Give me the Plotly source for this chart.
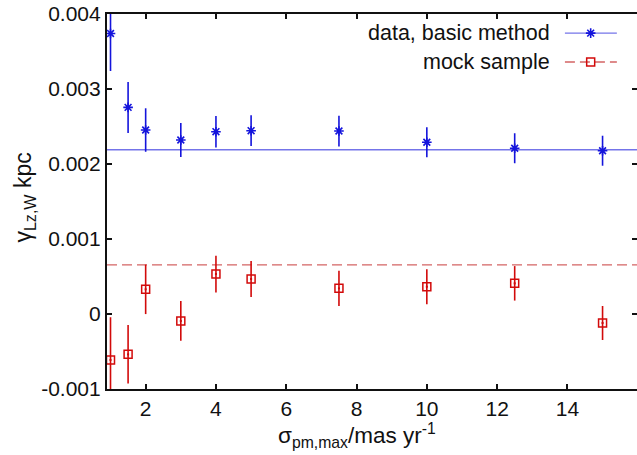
import plotly.graph_objects as go

# ---- data ----
sigma_pm = [1, 1.5, 2, 3, 4, 5, 7.5, 10, 12.5, 15]
gamma_data = [0.00374, 0.002755, 0.002453, 0.00232, 0.002431, 0.002444, 0.00244, 0.00229, 0.00221, 0.002177]
gamma_data_err = [0.0005, 0.00034, 0.00029, 0.000227, 0.00021, 0.000205, 0.000205, 0.0002, 0.0002, 0.0002]
gamma_mock = [-0.000613, -0.000538, 0.000329, -0.000093, 0.000533, 0.000467, 0.000342, 0.000364, 0.000409, -0.00012]
gamma_mock_err = [0.00057, 0.00039, 0.00033, 0.000265, 0.000245, 0.00024, 0.000235, 0.000233, 0.00023, 0.000227]
data_level = 0.00219
mock_level = 0.000655

x_range = [0.9, 15.98]
y_range = [-0.001, 0.004]
x_ticks = [2, 4, 6, 8, 10, 12, 14]
y_ticks = [-0.001, 0, 0.001, 0.002, 0.003, 0.004]
y_ticklabels = ["-0.001", "0", "0.001", "0.002", "0.003", "0.004"]
legend_labels = ["data, basic method", "mock sample"]

BLUE = "#1414dc"
BLUE_LINE = "rgba(70,70,225,0.75)"
RED = "#d20a0a"
RED_LINE = "#d46464"
FONT = "Liberation Sans, Arial, sans-serif"

fig = go.Figure()

# horizontal reference levels
fig.add_trace(go.Scatter(x=x_range, y=[data_level, data_level], mode="lines",
                         line=dict(color=BLUE_LINE, width=1.3), showlegend=False, hoverinfo="skip"))
fig.add_trace(go.Scatter(x=x_range, y=[mock_level, mock_level], mode="lines",
                         line=dict(color=RED_LINE, width=1.3, dash="10px,5px"), showlegend=False, hoverinfo="skip"))

# data points
fig.add_trace(go.Scatter(x=sigma_pm, y=gamma_data, mode="markers",
                         marker=dict(symbol="asterisk-open", size=8, color=BLUE, line=dict(color=BLUE, width=1.6)),
                         error_y=dict(type="data", array=gamma_data_err, width=0, thickness=1.6, color=BLUE),
                         showlegend=False))
fig.add_trace(go.Scatter(x=sigma_pm, y=gamma_mock, mode="markers",
                         marker=dict(symbol="square-open", size=8, color=RED, line=dict(color=RED, width=1.5)),
                         error_y=dict(type="data", array=gamma_mock_err, width=0, thickness=1.6, color=RED),
                         showlegend=False))
fig.add_trace(go.Scatter(x=sigma_pm, y=gamma_mock, mode="markers",
                         marker=dict(symbol="square", size=2, color=RED),
                         showlegend=False, hoverinfo="skip"))

# empty trace to carry the right-hand tick axis
fig.add_trace(go.Scatter(x=[], y=[], xaxis="x", yaxis="y2", showlegend=False))

# legend samples on an overlay axis in plot-fraction units
leg_y = [0.949, 0.872]
fig.add_trace(go.Scatter(x=[0.864, 0.962], y=[leg_y[0]] * 2, mode="lines", xaxis="x3", yaxis="y3",
                         line=dict(color=BLUE_LINE, width=1.3), showlegend=False, hoverinfo="skip"))
fig.add_trace(go.Scatter(x=[0.9126], y=[leg_y[0]], mode="markers", xaxis="x3", yaxis="y3",
                         marker=dict(symbol="asterisk-open", size=8, color=BLUE, line=dict(color=BLUE, width=1.6)),
                         showlegend=False, hoverinfo="skip"))
fig.add_trace(go.Scatter(x=[0.864, 0.962], y=[leg_y[1]] * 2, mode="lines", xaxis="x3", yaxis="y3",
                         line=dict(color=RED_LINE, width=1.3, dash="10px,5px"), showlegend=False, hoverinfo="skip"))
fig.add_trace(go.Scatter(x=[0.9126], y=[leg_y[1]], mode="markers", xaxis="x3", yaxis="y3",
                         marker=dict(symbol="square-open", size=8, color=RED, line=dict(color=RED, width=1.5)),
                         showlegend=False, hoverinfo="skip"))

annotations = []
for lab, yy in zip(legend_labels, leg_y):
    annotations.append(dict(text=lab, x=0.8396, y=yy, xref="paper", yref="paper",
                            xanchor="right", yanchor="middle", showarrow=False,
                            font=dict(family=FONT, size=21.5, color="#111")))
annotations.append(dict(text="γ<sub>Lz,W</sub> kpc", x=-0.155, y=0.51, xref="paper", yref="paper",
                        xanchor="center", yanchor="middle", textangle=-90, showarrow=False,
                        font=dict(family=FONT, size=23, color="#111")))
annotations.append(dict(text="σ<sub>pm,max</sub>/mas yr<sup>-1</sup>", x=0.4717, y=-0.125,
                        xref="paper", yref="paper", xanchor="center", yanchor="middle", showarrow=False,
                        font=dict(family=FONT, size=22.5, color="#111")))

fig.update_layout(
    width=637, height=455,
    margin=dict(l=107, r=0, t=14, b=66),
    paper_bgcolor="white", plot_bgcolor="white",
    font=dict(family=FONT, size=21, color="#111"),
    showlegend=False,
    annotations=annotations,
    xaxis=dict(range=x_range, tickvals=x_ticks, ticks="inside", ticklen=5, tickwidth=1.5,
               tickcolor="#111", showline=True, linecolor="#111", linewidth=2.2, mirror="ticks",
               showgrid=False, zeroline=False, tickfont=dict(size=21)),
    yaxis=dict(range=y_range, tickvals=y_ticks, ticktext=y_ticklabels, ticks="inside", ticklen=5,
               tickwidth=1.5, tickcolor="#111", showline=True, linecolor="#111", linewidth=2.2,
               mirror=False, showgrid=False, zeroline=False, tickfont=dict(size=21)),
    yaxis2=dict(range=y_range, tickvals=y_ticks, overlaying="y", side="right", anchor="x",
                ticks="inside", ticklen=5, tickwidth=1.5, tickcolor="#111", showline=False,
                showticklabels=False, showgrid=False, zeroline=False),
    xaxis3=dict(range=[0, 1], overlaying="x", visible=False, fixedrange=True),
    yaxis3=dict(range=[0, 1], overlaying="y", visible=False, fixedrange=True, anchor="x3"),
)

fig.write_html("out.html")
